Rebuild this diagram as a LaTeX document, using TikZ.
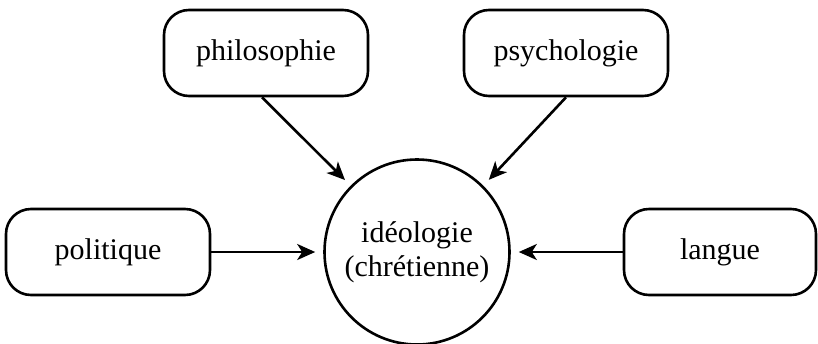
\documentclass[tikz,border=0pt]{standalone}
\usepackage{fontspec}
\setmainfont{Liberation Serif}
\usetikzlibrary{arrows.meta}

\begin{document}
\begin{tikzpicture}[x=0.5pt,y=-0.5pt,line width=1.3pt,
	boite/.style={draw,rounded corners=12.5pt,minimum width=102pt,minimum height=43pt,font=\fontsize{15}{17}\selectfont},
	rond/.style={draw,circle,minimum size=92.5pt,inner sep=0pt,align=center,font=\fontsize{15}{17}\selectfont},
	fleche/.style={-{Stealth[length=9pt,width=8pt,inset=2.5pt]},shorten >=4pt}]
	\useasboundingbox (0,0) rectangle (818,343);
				\node[rond] (ideo) at (417,252) {idéologie\\(chrétienne)};
				\node[boite] (philo) at (266,53) {philosophie};
				\node[boite] (psycho) at (566,53) {psychologie};
				\node[boite] (polit) at (108,252) {politique};
				\node[boite,minimum width=96pt] (langue) at (720,252) {langue};
			\draw[fleche] ([xshift=-2pt]philo.south) -- (ideo.135);
			\draw[fleche] (psycho.south) -- (ideo.45);
			\draw[fleche] (polit.east) -- (ideo.west);
			\draw[fleche] (langue.west) -- (ideo.east);
\end{tikzpicture}
\end{document}
